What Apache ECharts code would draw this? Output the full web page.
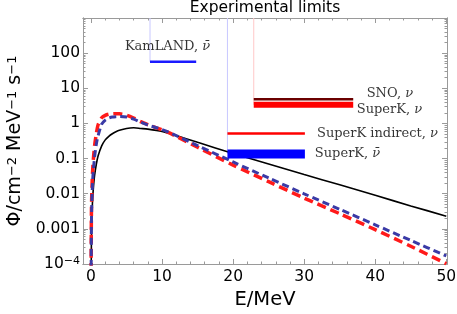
<!DOCTYPE html>
<html><head><meta charset="utf-8">
<script src="https://cdn.jsdelivr.net/npm/echarts@6/dist/echarts.min.js"></script>
<style>html,body{margin:0;padding:0;background:#fff}#c{width:457px;height:314px}</style>
</head><body><div id="c"></div>
<script>
// ---- data ----
const energy   = [0.01, 0.05, 0.1, 0.2, 0.3, 0.5, 0.75, 1, 1.5, 2, 2.5, 3, 3.5, 4, 5, 6, 7, 8, 10, 12, 15, 20, 25, 30, 35, 40, 45, 50];
const phiBlack = [2e-5, 3.5e-4, 1.4e-3, 5.5e-3, 0.012, 0.033, 0.07, 0.12, 0.23, 0.34, 0.43, 0.51, 0.58, 0.64, 0.72, 0.75, 0.72, 0.69, 0.59, 0.45, 0.29, 0.14, 0.07, 0.035, 0.018, 0.009, 0.0045, 0.0023];
const phiRed   = [6e-5, 0.0023, 0.009, 0.035, 0.08, 0.23, 0.52, 0.92, 1.45, 1.7, 1.83, 1.89, 1.9, 1.88, 1.72, 1.42, 1.12, 0.92, 0.66, 0.43, 0.21, 0.065, 0.022, 0.0075, 0.0027, 9.5e-4, 3.2e-4, 1.02e-4];
const phiBlue  = [4e-5, 0.0011, 0.0045, 0.018, 0.04, 0.11, 0.26, 0.45, 0.95, 1.25, 1.42, 1.52, 1.56, 1.57, 1.53, 1.33, 1.08, 0.9, 0.67, 0.45, 0.235, 0.08, 0.028, 0.0099, 0.0036, 0.0013, 4.7e-4, 1.7e-4];

const kamlandE = [8.3, 14.8];          const kamlandPhi = 57;
const snoE = [22.9, 36.9];             const snoPhi = 4.9;
const superKnuE = [22.9, 36.9];        const superKnuPhi = 3.4;
const superKindE = [19.2, 30.1];       const superKindPhi = 0.52;
const superKnubarE = [19.2, 30.1];     const superKnubarPhi = 0.135;
const limitsTop = 1000;

const xTicks = [0, 10, 20, 30, 40, 50];
const xMinorTicks = [];
for (let v = 0; v <= 50; v += 2) xMinorTicks.push(v);
const yTicks = [1e-4, 0.001, 0.01, 0.1, 1, 10, 100, 1000];
const yTickLabels = [1e-4, 0.001, 0.01, 0.1, 1, 10, 100];
const yMinorTicks = [];
for (let d = -4; d < 3; d++) for (let m = 2; m <= 9; m++) yMinorTicks.push(+(m * Math.pow(10, d)).toPrecision(3));

// ---- chart ----
const chart = echarts.init(document.getElementById('c'), null, {renderer: 'canvas'});
const X_MIN = -1.13, X_MAX = 50.1, Y_MIN = 1e-4, Y_MAX = 1000;
const frame = '#9a9a9a';
const sans = 'DejaVu Sans';
const serif = 'DejaVu Serif';

function xAx(pos, ticks, len, labels, extra) {
  return Object.assign({
    type: 'value', position: pos, min: X_MIN, max: X_MAX,
    axisLine: {show: true, onZero: false, lineStyle: {color: frame, width: 1}},
    axisTick: {show: true, inside: true, length: len, customValues: ticks, lineStyle: {color: frame}},
    axisLabel: labels ? {show: true, customValues: xTicks, color: '#000', fontFamily: sans, fontSize: 15.5, margin: 5} : {show: false},
    splitLine: {show: false}
  }, extra || {});
}
function yAx(pos, ticks, len, labels, extra) {
  return Object.assign({
    type: 'log', logBase: 10, position: pos, min: Y_MIN, max: Y_MAX,
    axisLine: {show: true, onZero: false, lineStyle: {color: frame, width: 1}},
    axisTick: {show: true, inside: true, length: len, customValues: ticks, lineStyle: {color: frame}},
    axisLabel: labels ? {
      show: true, customValues: yTickLabels, color: '#000', fontFamily: sans, fontSize: 15.5, margin: 3,
      formatter: function (v) {
        if (v < 5e-4) return '{n|10}{s|−4}';
        if (v >= 1) return String(Math.round(v));
        return '{n|' + String(+v.toPrecision(2)) + '}';
      },
      rich: {
        n: {fontFamily: sans, fontSize: 15.5, color: '#000'},
        s: {fontFamily: sans, fontSize: 11, color: '#000', verticalAlign: 'top'}
      }
    } : {show: false},
    splitLine: {show: false}
  }, extra || {});
}

function pairs(xs, ys) { return xs.map((e, i) => [e, ys[i]]); }
function bar(xs, v, color, width, z) {
  return {type: 'line', data: [[xs[0], v], [xs[1], v]], symbol: 'none', silent: true, z: z || 4,
          lineStyle: {color: color, width: width, cap: 'butt'}};
}
function guide(e, v, color) {
  return {type: 'line', data: [[e, limitsTop], [e, v]], symbol: 'none', silent: true, z: 1,
          lineStyle: {color: color, width: 1}};
}
function curve(ys, color, width, dash, z) {
  return {type: 'line', data: pairs(energy, ys), symbol: 'none', smooth: 0.25, clip: true, z: z,
          lineStyle: {color: color, width: width, type: dash || 'solid', cap: 'butt'}};
}
const labRich = {
  t: {fontFamily: serif, fontSize: 13, color: '#000'},
  it: {fontFamily: serif, fontSize: 13, fontStyle: 'italic', color: '#000'}
};
function textAt(e, v, text, align) {
  return {type: 'scatter', data: [[e, v]], symbolSize: 0, silent: true, z: 10,
          label: {show: true, position: [0, 0], align: align, verticalAlign: 'middle',
                  formatter: text, rich: labRich}};
}

chart.setOption({
  animation: false,
  backgroundColor: '#fff',
  grid: {left: 83, right: 10, top: 18, bottom: 50, outerBoundsMode: 'none', containLabel: false},
  graphic: [{type: 'text', x: 265, y: 7.5, style: {text: 'Experimental limits', fontFamily: sans, fontSize: 15.5,
             fill: '#000', textAlign: 'center', textVerticalAlign: 'middle'}}],
  xAxis: [
    xAx('bottom', xTicks, 5, true, {name: 'E/MeV', nameLocation: 'middle', nameGap: 24,
        nameTextStyle: {fontFamily: sans, fontSize: 19.5, color: '#000'}}),
    xAx('bottom', xMinorTicks, 2.5, false),
    xAx('top', xTicks, 5, false),
    xAx('top', xMinorTicks, 2.5, false)
  ],
  yAxis: [
    yAx('left', yTicks, 5, true, {
      name: '{n|Φ/cm}{s|−2}{n| MeV}{s|−1}{n| s}{s|−1}', nameLocation: 'middle', nameRotate: 90, nameGap: 56,
      nameTextStyle: {rich: {
        n: {fontFamily: sans, fontSize: 19, color: '#000'},
        s: {fontFamily: sans, fontSize: 13, color: '#000', verticalAlign: 'top'}
      }}
    }),
    yAx('left', yMinorTicks, 2.5, false),
    yAx('right', yTicks, 5, false),
    yAx('right', yMinorTicks, 2.5, false)
  ],
  series: [
    guide(kamlandE[0], kamlandPhi, '#c8c8ff'),
    guide(superKnubarE[0], superKnubarPhi, '#c8c8ff'),
    guide(superKnuE[0], superKnuPhi, '#ffc8c8'),
    curve(phiBlack, '#000000', 1.6, 'solid', 2),
    curve(phiRed, '#ff1a1a', 3.5, [9, 5], 3),
    curve(phiBlue, '#3a3aa6', 3, [7, 4], 3),
    bar(kamlandE, kamlandPhi, '#1a1aff', 2.5),
    bar(snoE, snoPhi, '#6b0000', 2.5),
    bar(superKnuE, superKnuPhi, '#ff0000', 6),
    bar(superKindE, superKindPhi, '#ff0000', 2.5),
    bar(superKnubarE, superKnubarPhi, '#0000ff', 9),
    textAt(10.77, 155, '{t|KamLAND, }{it|ν̄}', 'center'),
    textAt(38.8, 7.2, '{t|SNO, }{it|ν}', 'left'),
    textAt(37.4, 2.51, '{t|SuperK, }{it|ν}', 'left'),
    textAt(31.8, 0.518, '{t|SuperK indirect, }{it|ν}', 'left'),
    textAt(31.5, 0.139, '{t|SuperK, }{it|ν̄}', 'left')
  ]
});
</script></body></html>
